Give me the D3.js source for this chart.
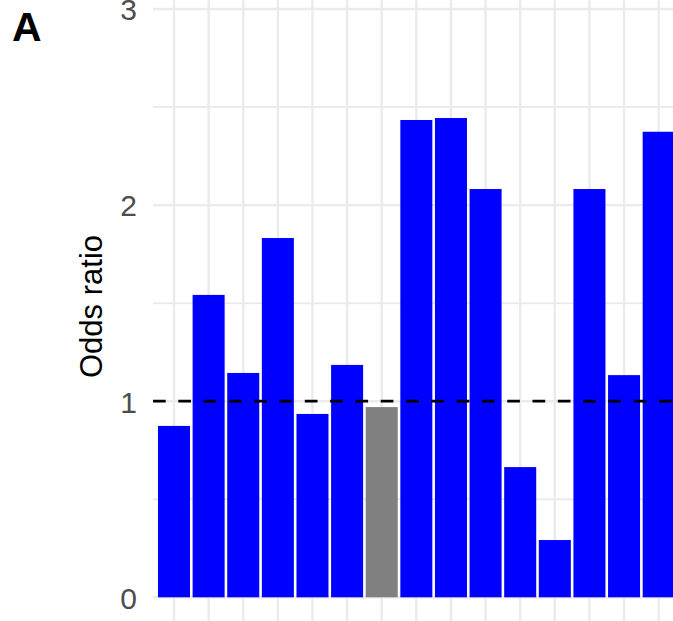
<!DOCTYPE html>
<html><head><meta charset="utf-8">
<script src="https://cdn.jsdelivr.net/npm/d3@7"></script>
<style>html,body{margin:0;padding:0;background:#fff;overflow:hidden}</style>
</head><body>
<svg id="c" width="673" height="621"></svg>
<script>
const categories = ["c1","c2","c3","c4","c5","c6","c7","c8","c9","c10","c11","c12","c13","c14","c15"];
const oddsRatio = [0.874,1.542,1.144,1.832,0.935,1.185,0.970,2.434,2.444,2.082,0.664,0.292,2.082,1.133,2.374];
const significant = [true,true,true,true,true,true,false,true,true,true,true,true,true,true,true];
const yTicks = [0,1,2,3];
const yMinor = [0.5,1.5,2.5];
const refLine = 1;

const W = 673, H = 621;
const svg = d3.select("#c");
const panelLeft = 153, panelRight = 673;
const step = 34.62;
const x0 = 174 - step/2;
const x = d3.scaleBand().domain(categories)
  .range([x0, x0 + step*categories.length])
  .paddingInner(0.075).paddingOuter(0.0375);
const y = d3.scaleLinear().domain([0,3]).range([597.3, 9]);

const grid = svg.append("g");
grid.selectAll("line.minor").data(yMinor).join("line")
  .attr("x1", panelLeft).attr("x2", panelRight)
  .attr("y1", d=>y(d)).attr("y2", d=>y(d))
  .attr("stroke","#ebebeb").attr("stroke-width",2);
grid.selectAll("line.major").data(yTicks).join("line")
  .attr("x1", panelLeft).attr("x2", panelRight)
  .attr("y1", d=>y(d)).attr("y2", d=>y(d))
  .attr("stroke","#ebebeb").attr("stroke-width",2.4);
grid.selectAll("line.v").data(categories).join("line")
  .attr("x1", d=>x(d)+x.bandwidth()/2).attr("x2", d=>x(d)+x.bandwidth()/2)
  .attr("y1", 0).attr("y2", H)
  .attr("stroke","#ebebeb").attr("stroke-width",2.4);

svg.append("g").selectAll("rect").data(categories).join("rect")
  .attr("x", d=>x(d))
  .attr("width", x.bandwidth())
  .attr("y", (d,i)=>y(oddsRatio[i]))
  .attr("height", (d,i)=>y(0)-y(oddsRatio[i]))
  .attr("fill", (d,i)=>significant[i] ? "#0000ff" : "#808080");

svg.append("line")
  .attr("x1", panelLeft).attr("x2", panelRight)
  .attr("y1", y(refLine)).attr("y2", y(refLine))
  .attr("stroke","#000").attr("stroke-width",2.8)
  .attr("stroke-dasharray","12.7,12.6");

const ax = svg.append("g").attr("transform", `translate(${panelLeft},0)`)
  .call(d3.axisLeft(y).tickValues(yTicks).tickSize(0).tickPadding(16).tickFormat(d3.format("d")));
ax.select(".domain").remove();
ax.selectAll("text")
  .attr("font-family","'Liberation Sans', Arial, Helvetica, sans-serif")
  .attr("font-size",30).attr("fill","#4d4d4d").attr("dy","0.36em");

svg.append("text")
  .attr("transform", `translate(102,${(230+383)/2}) rotate(-90)`)
  .attr("text-anchor","middle")
  .attr("font-family","'Liberation Sans', Arial, Helvetica, sans-serif")
  .attr("font-size",31).attr("fill","#000")
  .text("Odds ratio");

svg.append("text")
  .attr("x", 12).attr("y", 41)
  .attr("font-family","'Liberation Sans', Arial, Helvetica, sans-serif")
  .attr("font-weight","bold").attr("font-size",41).attr("fill","#000")
  .text("A");
</script>
</body></html>
